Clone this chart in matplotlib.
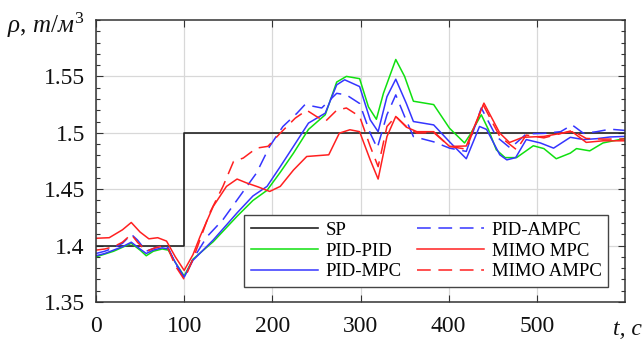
import matplotlib
matplotlib.use('Agg')
import matplotlib.pyplot as plt
from matplotlib.ticker import MultipleLocator

plt.rcParams['font.family'] = ['Liberation Serif', 'DejaVu Serif']
plt.rcParams['mathtext.fontset'] = 'custom'
plt.rcParams['mathtext.rm'] = 'Liberation Serif'
plt.rcParams['mathtext.it'] = 'Liberation Serif:italic'

# ---- данные ----
t_sp = [0, 100, 100, 600]
rho_sp = [1.4, 1.4, 1.5, 1.5]

t_pid_pid = [0, 20, 40, 50, 57, 65, 75, 82, 90, 100, 110, 133, 160, 178, 194, 209,
             224, 241, 260, 273, 284, 299, 309, 318, 326, 340, 350, 360, 383, 401,
             418, 424, 437, 445, 454, 464, 477, 496, 508, 522, 538, 545, 560, 575, 600]
rho_pid_pid = [1.390, 1.395, 1.402, 1.396, 1.391, 1.395, 1.397, 1.396, 1.385, 1.373,
               1.388, 1.4035, 1.426, 1.440, 1.449, 1.465, 1.482, 1.503, 1.516, 1.545,
               1.550, 1.548, 1.523, 1.512, 1.535, 1.565, 1.550, 1.528, 1.525, 1.504,
               1.491, 1.498, 1.516, 1.503, 1.485, 1.478, 1.478, 1.4885, 1.486, 1.477,
               1.482, 1.486, 1.484, 1.491, 1.495]

t_pid_mpc = [0, 10, 20, 30, 40, 50, 57, 65, 75, 82, 90, 100, 110, 133, 160, 178, 194,
             209, 224, 241, 260, 273, 282, 299, 311, 320, 330, 340, 352, 360, 383, 401,
             420, 435, 443, 458, 466, 476, 488, 504, 519, 538, 553, 568, 583, 600]
rho_pid_mpc = [1.391, 1.393, 1.396, 1.399, 1.403, 1.397, 1.393, 1.396, 1.398, 1.397,
               1.385, 1.372, 1.387, 1.405, 1.429, 1.444, 1.4525, 1.470, 1.488, 1.5086,
               1.5174, 1.5425, 1.547, 1.541, 1.5115, 1.501, 1.532, 1.5475, 1.526, 1.510,
               1.507, 1.492, 1.477, 1.5056, 1.503, 1.4805, 1.476, 1.478, 1.494, 1.491,
               1.4864, 1.496, 1.494, 1.4948, 1.4963, 1.4968]

t_pid_ampc = [0, 10, 20, 30, 40, 47, 57, 67, 77, 82, 90, 100, 110, 126, 144, 163, 182,
              197, 212, 228, 237, 256, 273, 284, 299, 311, 319, 330, 340, 350, 360, 383,
              401, 420, 437, 454, 470, 488, 508, 527, 540, 553, 568, 583, 600]
rho_pid_ampc = [1.393, 1.395, 1.398, 1.402, 1.410, 1.405, 1.395, 1.398, 1.400, 1.398,
                1.384, 1.371, 1.388, 1.408, 1.423, 1.4437, 1.4643, 1.488, 1.5056, 1.5174,
                1.525, 1.522, 1.535, 1.5336, 1.526, 1.4997, 1.4865, 1.516, 1.5336, 1.5145,
                1.4967, 1.492, 1.4864, 1.4835, 1.522, 1.4967, 1.4864, 1.499, 1.4995,
                1.501, 1.507, 1.4995, 1.501, 1.5032, 1.5021]

t_mimo_mpc = [0, 15, 30, 40, 50, 60, 70, 80, 90, 100, 110, 118, 133, 148, 160, 171, 184,
              197, 209, 224, 239, 264, 276, 288, 299, 311, 320, 330, 340, 352, 364, 383,
              401, 420, 440, 458, 469, 484, 508, 527, 540, 556, 575, 600]
rho_mimo_mpc = [1.4065, 1.407, 1.414, 1.4205, 1.412, 1.406, 1.407, 1.404, 1.390, 1.378,
                1.392, 1.408, 1.4348, 1.4525, 1.459, 1.4555, 1.452, 1.448, 1.4525, 1.467,
                1.479, 1.4805, 1.4997, 1.5027, 1.501, 1.476, 1.459, 1.4967, 1.5145, 1.505,
                1.501, 1.501, 1.4879, 1.4883, 1.5263, 1.4997, 1.4914, 1.496, 1.4968,
                1.4995, 1.501, 1.4915, 1.4929, 1.4929]

t_mimo_ampc = [0, 10, 20, 30, 40, 47, 57, 67, 77, 82, 90, 100, 110, 129, 144, 156, 167,
               182, 195, 209, 226, 239, 250, 260, 273, 284, 299, 311, 320, 330, 340, 352,
               364, 383, 401, 420, 439, 458, 477, 488, 508, 540, 556, 575, 600]
rho_mimo_ampc = [1.396, 1.397, 1.399, 1.403, 1.410, 1.403, 1.395, 1.398, 1.400, 1.397,
                 1.382, 1.370, 1.388, 1.429, 1.4525, 1.4746, 1.4776, 1.4864, 1.488, 1.4997,
                 1.513, 1.520, 1.5145, 1.510, 1.520, 1.522, 1.5145, 1.488, 1.470, 1.5056,
                 1.5145, 1.5056, 1.4997, 1.5003, 1.4879, 1.4855, 1.525, 1.4967, 1.485,
                 1.498, 1.4955, 1.502, 1.495, 1.4944, 1.4945]

y_ticks = [1.35, 1.40, 1.45, 1.50, 1.55]
y_labels = ['1.35', '1.4', '1.45', '1.5', '1.55']
x_ticks = [0, 100, 200, 300, 400, 500]

GREEN = '#10e010'
BLUE = '#3535ff'
RED = '#ff2020'
DASH = (9, 5)

fig = plt.figure(figsize=(6.44, 3.42), dpi=100)
ax = fig.add_axes([96 / 644, 1 - 302 / 342, 529 / 644, 282 / 342])

ax.plot(t_sp, rho_sp, color='#222222', lw=1.2, label='SP')
ax.plot(t_pid_pid, rho_pid_pid, color=GREEN, lw=1.1, label='PID-PID')
ax.plot(t_pid_mpc, rho_pid_mpc, color=BLUE, lw=1.1, label='PID-MPC')
ax.plot(t_pid_ampc, rho_pid_ampc, color=BLUE, lw=1.1, dashes=DASH, label='PID-AMPC')
ax.plot(t_mimo_mpc, rho_mimo_mpc, color=RED, lw=1.1, label='MIMO MPC')
ax.plot(t_mimo_ampc, rho_mimo_ampc, color=RED, lw=1.1, dashes=DASH, label='MIMO AMPC')

ax.set_xlim(0, 600)
ax.set_ylim(1.35, 1.60)
ax.set_xticks(x_ticks)
ax.set_yticks(y_ticks)
ax.set_yticklabels(y_labels)
ax.yaxis.set_minor_locator(MultipleLocator(0.01))
ax.tick_params(which='both', direction='in', top=True, right=True,
               labelsize=17, colors='#333333', labelcolor='#111111')
ax.tick_params(which='major', length=5, width=0.8)
ax.tick_params(axis='y', which='major', pad=8)
ax.tick_params(axis='x', which='major', pad=10)
ax.tick_params(which='minor', length=3, width=0.8)
ax.grid(True, which='major', color='#d8d8d8', lw=0.9)
for s in ax.spines.values():
    s.set_color('#333333')
    s.set_linewidth(1.1)

leg = ax.legend(ncol=2, loc='lower right', bbox_to_anchor=(0.968, 0.053),
                fontsize=13.5, handlelength=3.6, handletextpad=0.4,
                columnspacing=0.8, labelspacing=0.2, borderpad=0.35,
                fancybox=False, framealpha=1, borderaxespad=0)
leg.get_frame().set_edgecolor('#444444')
leg.get_frame().set_linewidth(1.0)

fig.text(7 / 644, 1 - 33 / 342, r'$\rho$, $m/м^3$', fontsize=18,
         va='baseline', ha='left', color='#111111')
fig.text(613 / 644, 1 - 335 / 342, 't, c', fontsize=17, style='italic',
         va='baseline', ha='left', color='#111111')

fig.savefig('out.png', dpi=100)
